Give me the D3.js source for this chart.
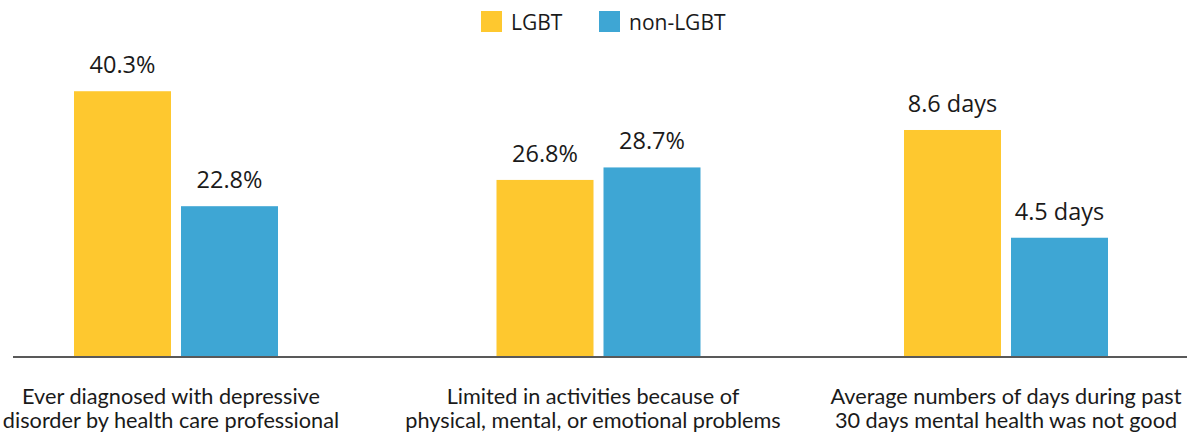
<!DOCTYPE html>
<meta charset="utf-8">
<head>
<script src="https://d3js.org/d3.v7.min.js"></script>
<style>
  body { margin: 0; background: #fff; }
  .val { font-family: "Open Sans", sans-serif; font-size: 23.5px; fill: #1a1a1a; }
  .cat { font-family: Lato, sans-serif; font-size: 21.7px; fill: #1a1a1a; }
  .leg { font-family: "Open Sans", sans-serif; font-size: 21px; fill: #1a1a1a; }
</style>
</head>
<body>
<svg id="chart" width="1187" height="433"></svg>
<script>
// data
var categories = [
  ["Ever diagnosed with depressive", "disorder by health care professional"],
  ["Limited in activities because of", "physical, mental, or emotional problems"],
  ["Average numbers of days during past", "30 days mental health was not good"]
];
var series = ["LGBT", "non-LGBT"];
var lgbt = [40.3, 26.8, 8.6];
var nonLgbt = [22.8, 28.7, 4.5];
var units = ["pct", "pct", "days"];
var colors = ["#fec82f", "#3ea6d4"];

var svg = d3.select("#chart");
var base = 356;

// group centres are not evenly spaced in the original
var x0 = d3.scaleOrdinal().domain(d3.range(categories.length)).range([176, 598.5, 1006]);
var xLab = d3.scaleOrdinal().domain(d3.range(categories.length)).range([171, 593, 1006]);
var x1 = d3.scaleBand().domain(series).range([-102, 102]).paddingInner(10 / 107);
var yPct = d3.scaleLinear().domain([0, 50]).range([base, 27.5]);
var yDays = d3.scaleLinear().domain([0, 12.5]).range([base, 27.5]);
var color = d3.scaleOrdinal().domain(series).range(colors);

var rows = [];
categories.forEach(function(c, i) {
  rows.push({ cat: i, s: "LGBT", v: lgbt[i], u: units[i] });
  rows.push({ cat: i, s: "non-LGBT", v: nonLgbt[i], u: units[i] });
});
function yOf(d) { return d.u === "days" ? yDays(d.v) : yPct(d.v); }

svg.selectAll("rect.bar").data(rows).enter().append("rect")
  .attr("class", "bar")
  .attr("x", function(d) { return x0(d.cat) + x1(d.s); })
  .attr("width", x1.bandwidth())
  .attr("y", yOf)
  .attr("height", function(d) { return base - yOf(d); })
  .attr("fill", function(d) { return color(d.s); });

svg.selectAll("text.val").data(rows).enter().append("text")
  .attr("class", "val")
  .attr("text-anchor", "middle")
  .attr("x", function(d) { return x0(d.cat) + x1(d.s) + x1.bandwidth() / 2; })
  .attr("y", function(d) { return yOf(d) - 18; })
  .text(function(d) { return d.u === "days" ? d.v + " days" : d.v.toFixed(1) + "%"; });

// baseline
svg.append("line")
  .attr("x1", 13).attr("x2", 1187)
  .attr("y1", base + 1).attr("y2", base + 1)
  .attr("stroke", "#222").attr("stroke-width", 1.5);

// category labels
var cat = svg.selectAll("text.cat").data(categories).enter().append("text")
  .attr("class", "cat")
  .attr("text-anchor", "middle")
  .attr("x", function(d, i) { return xLab(i); })
  .attr("y", 404);
cat.selectAll("tspan").data(function(d) { return d; }).enter().append("tspan")
  .attr("x", function() { return d3.select(this.parentNode).attr("x"); })
  .attr("dy", function(d, i) { return i ? 24 : 0; })
  .text(function(d) { return d; });

// legend
var legX = d3.scaleOrdinal().domain(series).range([481, 599]);
var leg = svg.selectAll("g.leg").data(series).enter().append("g")
  .attr("transform", function(d) { return "translate(" + legX(d) + ",11)"; });
leg.append("rect").attr("width", 21).attr("height", 21).attr("fill", function(d) { return color(d); });
leg.append("text").attr("class", "leg").attr("x", 30).attr("y", 19).text(function(d) { return d; });
</script>
</body>
